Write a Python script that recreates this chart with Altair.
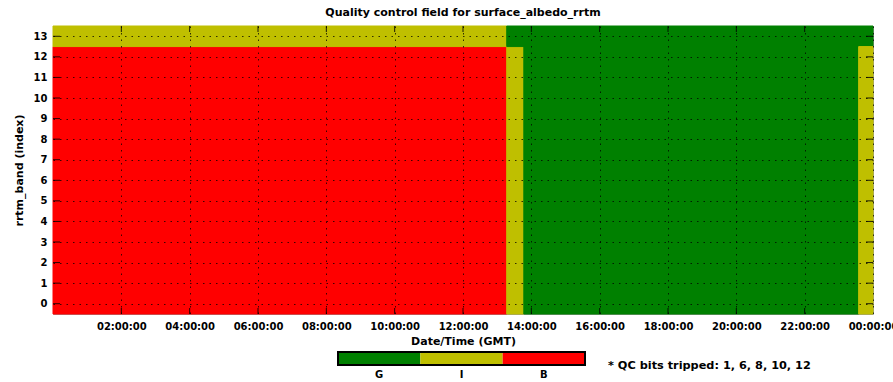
import altair as alt
import pandas as pd

# ---- data (hours since 00:00 GMT) ----
seg_start = [0.0, 0.0, 13.28, 13.78, 13.28, 23.58]
seg_end = [13.28, 13.28, 13.78, 23.58, 24.0, 24.0]
band_lo = [0, 13, 0, 0, 13, 0]
band_hi = [12, 13, 12, 12, 13, 12]
seg_flag = ["B", "I", "I", "G", "G", "I"]

x_ticks = [2, 4, 6, 8, 10, 12, 14, 16, 18, 20, 22, 24]
y_ticks = list(range(14))

flag_names = ["G", "I", "B"]
flag_colors = ["#008000", "#bfbf00", "#ff0000"]
qc_note = "* QC bits tripped: 1, 6, 8, 10, 12"

seg = pd.DataFrame({"start": seg_start, "end": seg_end, "lo": band_lo,
                    "hi": band_hi, "flag": seg_flag})
xt = pd.DataFrame({"h": x_ticks[:-1]})
yt = pd.DataFrame({"b": y_ticks})
leg = pd.DataFrame({"flag": flag_names, "i0": [0, 1, 2], "i1": [1, 2, 3],
                    "c": [0.5, 1.5, 2.5]})

FONT = "DejaVu Sans"
W, H = 820, 288

xscale = alt.Scale(domain=[0, 24], nice=False, zero=False)
yscale = alt.Scale(domain=[-0.5, 13.5], nice=False, zero=False)
cscale = alt.Scale(domain=flag_names, range=flag_colors)

label_expr = "(datum.value % 24 < 10 ? '0' : '') + (datum.value % 24) + ':00:00'"

xaxis = alt.Axis(values=x_ticks, labelExpr=label_expr, title="Date/Time (GMT)",
                 grid=True, gridDash=[1.5, 5], gridColor="#000", gridOpacity=0.75,
                 ticks=False, tickSize=0, domain=False, labelPadding=7,
                 labelOverlap=False, labelFlush=False,
                 titlePadding=4, zindex=1, labelFontSize=10, titleFontSize=11)
yaxis = alt.Axis(values=y_ticks, title="rrtm_band (index)",
                 grid=True, gridDash=[1.5, 5], gridColor="#000", gridOpacity=0.75,
                 ticks=False, tickSize=0, domain=False, labelPadding=6,
                 labelOverlap=False, labelFlush=False,
                 titlePadding=9, zindex=1, labelFontSize=10, titleFontSize=11)

base = alt.Chart(seg).transform_calculate(
    y0="datum.lo - 0.5", y1="datum.hi + 0.5")

rects = base.mark_rect(strokeWidth=1).encode(
    x=alt.X("start:Q", scale=xscale, axis=xaxis),
    x2="end:Q",
    y=alt.Y("y0:Q", scale=yscale, axis=yaxis),
    y2="y1:Q",
    color=alt.Color("flag:N", scale=cscale, legend=None),
    stroke=alt.Stroke("flag:N", scale=cscale, legend=None),
)

tick_style = dict(color="#000", strokeWidth=1, opacity=0.85)
xt_bot = alt.Chart(xt).mark_rule(**tick_style).encode(
    x=alt.X("h:Q", scale=xscale, axis=xaxis), y=alt.value(H), y2=alt.value(H - 6))
xt_top = alt.Chart(xt).mark_rule(**tick_style).encode(
    x=alt.X("h:Q", scale=xscale, axis=xaxis), y=alt.value(0), y2=alt.value(6))
yt_left = alt.Chart(yt).mark_rule(**tick_style).encode(
    y=alt.Y("b:Q", scale=yscale, axis=yaxis), x=alt.value(0), x2=alt.value(7))
yt_right = alt.Chart(yt).mark_rule(**tick_style).encode(
    y=alt.Y("b:Q", scale=yscale, axis=yaxis), x=alt.value(W), x2=alt.value(W - 7))

main = alt.layer(rects, xt_bot, xt_top, yt_left, yt_right)

lscale = alt.Scale(domain=[0, 3], range=[285, 532], nice=False, zero=False)
leg_rect = alt.Chart(leg).mark_rect(clip=False).encode(
    x=alt.X("i0:Q", scale=lscale, axis=None), x2="i1:Q",
    y=alt.value(326), y2=alt.value(339),
    color=alt.Color("flag:N", scale=cscale, legend=None))
leg_border = alt.Chart(leg).transform_aggregate(
    a="min(i0)", b="max(i1)").mark_rect(clip=False, fill=None, stroke="#000",
                                         strokeWidth=2).encode(
    x=alt.X("a:Q", scale=lscale, axis=None), x2="b:Q",
    y=alt.value(326), y2=alt.value(339))
leg_text = alt.Chart(leg).mark_text(font=FONT, fontWeight="bold", fontSize=10,
                                    baseline="middle").encode(
    x=alt.X("c:Q", scale=lscale, axis=None), y=alt.value(349), text="flag:N")
note = alt.Chart(pd.DataFrame({"t": [qc_note]})).mark_text(
    font=FONT, fontWeight="bold", fontSize=11.3, align="left", baseline="middle").encode(
    x=alt.value(555), y=alt.value(340), text="t:N")

legend = alt.layer(leg_rect, leg_border, leg_text, note)

chart = alt.layer(main, legend).resolve_scale(x="independent", y="independent").properties(
    width=W, height=H,
    padding={"left": 53, "top": 26, "right": 20, "bottom": 68},
    autosize=alt.AutoSizeParams(type="none"),
    title=alt.TitleParams("Quality control field for surface_albedo_rrtm", font=FONT,
                          fontSize=11, fontWeight="bold", offset=8, anchor="middle"),
).configure_view(stroke="#999", strokeWidth=1).configure_axis(
    labelFont=FONT, titleFont=FONT, labelFontWeight="bold", titleFontWeight="bold",
    labelColor="#000", titleColor="#000")

chart.save("out.html", embed_options={"renderer": "svg", "actions": False})
